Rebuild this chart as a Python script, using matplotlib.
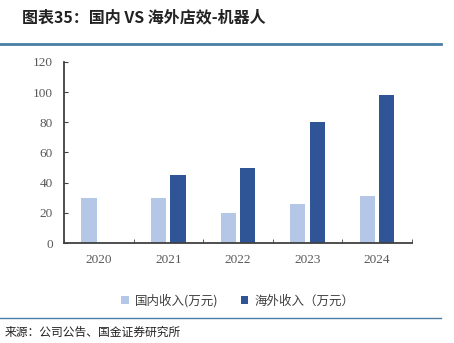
import numpy as np
import matplotlib.pyplot as plt
from matplotlib.lines import Line2D

plt.rcParams['font.family'] = ['Liberation Serif', 'Noto Sans CJK SC', 'DejaVu Sans']

years = ['2020', '2021', '2022', '2023', '2024']
domestic = [30, 30, 20, 26, 31]
overseas = [0, 45, 50, 80, 98]
yticks = [0, 20, 40, 60, 80, 100, 120]

fig = plt.figure(figsize=(4.54, 3.43), dpi=100)
ax = fig.add_axes([0.141, 0.2915, 0.766, 0.528])

x = np.arange(len(years))
ax.bar(x - 0.14, domestic, width=0.22, color='#b4c7e7', label='国内收入(万元)')
ax.bar(x + 0.14, overseas, width=0.22, color='#2f5597', label='海外收入（万元）')

ax.set_xlim(-0.5, len(years) - 0.5)
ax.set_ylim(0, 120)
ax.set_yticks(yticks)
ax.set_xticks(x)
ax.set_xticklabels(years)
ax.set_xticks(np.arange(-0.5, len(years)), minor=True)
ax.tick_params(axis='x', which='major', length=0, pad=8, labelsize=9.5, labelcolor='#595959')
ax.tick_params(axis='x', which='minor', length=3, direction='in', color='#404040')
ax.tick_params(axis='y', length=3, direction='in', color='#404040', labelsize=9.5, labelcolor='#595959', pad=8)
for s in ['top', 'right']:
    ax.spines[s].set_visible(False)
for s in ['left', 'bottom']:
    ax.spines[s].set_color('#404040')
    ax.spines[s].set_linewidth(1.3)

leg = ax.legend(loc='upper center', bbox_to_anchor=(0.5, -0.22), ncol=2, frameon=False,
                fontsize=9, handlelength=0.6, handleheight=0.6, columnspacing=1.8, handletextpad=0.5,
                prop={'family': ['Noto Sans CJK SC'], 'size': 9})
for t in leg.get_texts():
    t.set_color('#404040')

# title and rules
fig.text(0.048, 0.948, '图表35：国内 VS 海外店效-机器人', fontsize=11.5, fontweight='bold',
         family=['Noto Sans CJK SC'], va='center', ha='left', color='#222222')
fig.add_artist(Line2D([0, 0.972], [0.871, 0.871], color='#4a7ea5', linewidth=2))
fig.add_artist(Line2D([0, 0.972], [0.074, 0.074], color='#4a7ea5', linewidth=1))
fig.text(0.011, 0.032, '来源：公司公告、国金证券研究所', fontsize=8.5,
         family=['Noto Sans CJK SC'], va='center', ha='left', color='#222222')

fig.savefig('out.png', dpi=100)
